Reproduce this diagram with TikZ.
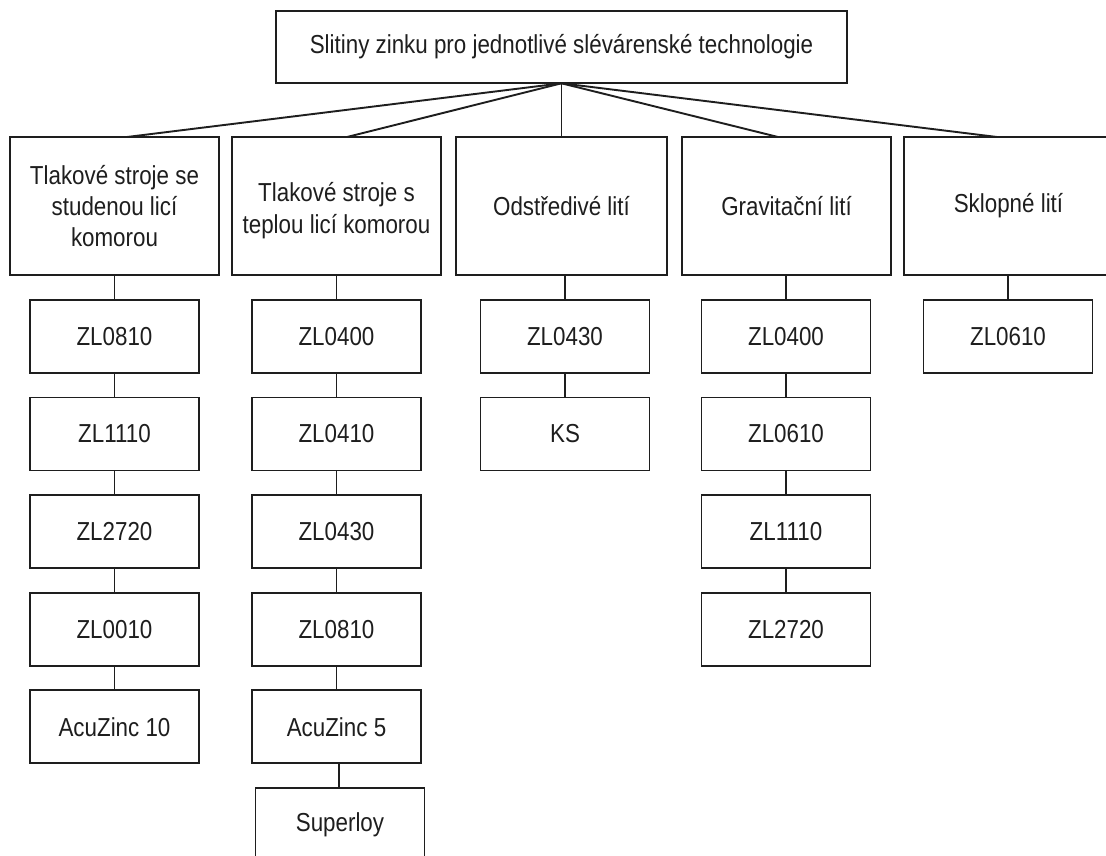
\documentclass[tikz,border=0pt]{standalone}
\usepackage{fontspec}
\setmainfont{Liberation Sans}[FakeStretch=0.86]
\definecolor{ink}{HTML}{1E1E1E}
\begin{document}
\begin{tikzpicture}[x=1pt,y=-1pt,
  box/.style={draw=ink,line width=1.9pt,fill=white,inner sep=0pt,outer sep=0pt,
    text=ink,align=center,font=\fontsize{26}{31}\selectfont},
  topbox/.style={box,minimum width=571pt,minimum height=72.6pt},
  techbox/.style={box,minimum width=209pt,minimum height=138pt},
  alloy/.style={box,minimum width=169pt,minimum height=73pt},
  link/.style={draw=ink,line width=1.9pt}]
\fill[white] (0,0) rectangle (1106,856);
\useasboundingbox (0,0) rectangle (1106,856);

\node[topbox] (top) at (561.5,47) {Slitiny zinku pro jednotlivé slévárenské technologie};

\node[techbox] (b1) at (114.5,206) {Tlakové stroje se\\studenou licí\\komorou};
\node[techbox] (b2) at (336.5,206) {\raisebox{-11.5pt}[0pt][0pt]{\begin{tabular}{@{}c@{}}Tlakové stroje s\\[1pt]teplou licí komorou\end{tabular}}};
\node[techbox,minimum width=211pt] (b3) at (561.5,206) {Odstředivé lití};
\node[techbox] (b4) at (786.5,206) {Gravitační lití};
\node[techbox] (b5) at (1008.5,206) {Sklopné lití};

\path[link] (top.south) -- ([xshift=12.5pt]b1.north);
\path[link] (top.south) -- ([xshift=10.5pt]b2.north);
\path[link] (top.south) -- (b3.north);
\path[link] (top.south) -- ([xshift=-8.5pt]b4.north);
\path[link] (top.south) -- ([xshift=-11.5pt]b5.north);

% column 1
\node[alloy] (c11) at (114.5,336.4) {ZL0810};
\node[alloy] (c12) at (114.5,434.0) {ZL1110};
\node[alloy] (c13) at (114.5,531.6) {ZL2720};
\node[alloy] (c14) at (114.5,629.2) {ZL0010};
\node[alloy] (c15) at (114.5,726.8) {AcuZinc 10};
% column 2
\node[alloy] (c21) at (336.5,336.4) {ZL0400};
\node[alloy] (c22) at (336.5,434.0) {ZL0410};
\node[alloy] (c23) at (336.5,531.6) {ZL0430};
\node[alloy] (c24) at (336.5,629.2) {ZL0810};
\node[alloy] (c25) at (336.5,726.8) {AcuZinc 5};
\node[alloy] (c26) at (340,824.4) {Superloy};
% column 3
\node[alloy] (c31) at (565,336.4) {ZL0430};
\node[alloy] (c32) at (565,434.0) {KS};
% column 4
\node[alloy] (c41) at (786,336.4) {ZL0400};
\node[alloy] (c42) at (786,434.0) {ZL0610};
\node[alloy] (c43) at (786,531.6) {ZL1110};
\node[alloy] (c44) at (786,629.2) {ZL2720};
% column 5
\node[alloy] (c51) at (1008,336.4) {ZL0610};

\path[link] (c11.north) -- (c11.north |- b1.south);
\path[link] (c21.north) -- (c21.north |- b2.south);
\path[link] (c31.north) -- (c31.north |- b3.south);
\path[link] (c41.north) -- (c41.north |- b4.south);
\path[link] (c51.north) -- (c51.north |- b5.south);

\path[link] (c11) -- (c12);
\path[link] (c12) -- (c13);
\path[link] (c13) -- (c14);
\path[link] (c14) -- (c15);
\path[link] (c21) -- (c22);
\path[link] (c22) -- (c23);
\path[link] (c23) -- (c24);
\path[link] (c24) -- (c25);
\path[link] ([xshift=-1pt]c26.north) -- ([xshift=-1pt]c26.north |- c25.south);
\path[link] (c31) -- (c32);
\path[link] (c41) -- (c42);
\path[link] (c42) -- (c43);
\path[link] (c43) -- (c44);
\end{tikzpicture}
\end{document}
